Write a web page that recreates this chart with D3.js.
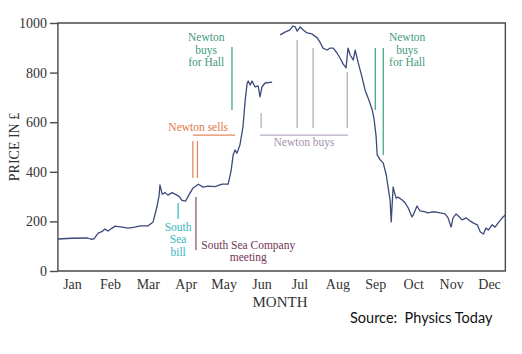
<!DOCTYPE html>
<html lang="en">
<head>
	<meta charset="utf-8">
	<title>South Sea price 1720</title>
	<script src="https://d3js.org/d3.v7.min.js"></script>
	<style type="text/css">
		body { margin: 0; background: #fff; }
		svg text { font-family: "Liberation Serif", "Times New Roman", serif; }
		.axis text { font-size: 14px; fill: #333; }
		.axis path, .axis line { stroke: #4a4a4a; stroke-width: 1.4; }
		.note { font-size: 11.5px; }
		svg text.source { font-family: Lato, "Open Sans", sans-serif; font-size: 14.5px; fill: #111; white-space: pre; }
	</style>
</head>
<body>
	<svg id="chart"></svg>

	<script type="text/javascript">
		// months run 0..12 (0 = start of Jan)
		let monthNames = ['Jan', 'Feb', 'Mar', 'Apr', 'May', 'Jun', 'Jul', 'Aug', 'Sep', 'Oct', 'Nov', 'Dec']
		let yTicks = [0, 200, 400, 600, 800, 1000]

		// price trace, null = gap in the record
		let priceMonth = [0.13, 0.50, 0.92, 1.00, 1.08, 1.19, 1.30, 1.37, 1.45, 1.55, 1.64, 1.82, 1.98, 2.16, 2.30, 2.51,
			2.64, 2.74, 2.80, 2.82, 2.88, 2.96, 3.03, 3.14, 3.27, 3.33, 3.40, 3.50, 3.56, 3.69, 3.83, 3.96,
			4.09, 4.27, 4.46, 4.62, 4.70, 4.75, 4.80, 4.85, 4.93, 5.01, 5.07, 5.12, 5.15, 5.20, 5.25, 5.33,
			5.41, 5.46, 5.51, 5.59, 5.78, 5.88,
			5.99, 6.12, 6.25, 6.33, 6.39, 6.44, 6.52, 6.60, 6.70, 6.83, 6.97, 7.04, 7.12, 7.23, 7.31, 7.39,
			7.49, 7.57, 7.65, 7.73, 7.78, 7.84, 7.92, 7.97, 8.05, 8.15, 8.23, 8.31, 8.42, 8.47, 8.52, 8.55,
			8.63, 8.71, 8.79, 8.84, 8.89, 8.92, 8.97, 9.00, 9.05, 9.10, 9.21, 9.29, 9.37, 9.47, 9.50, 9.60,
			9.68, 9.82, 9.89, 10.00, 10.08, 10.21, 10.34, 10.42, 10.50, 10.55, 10.63, 10.69, 10.79, 10.90,
			11.00, 11.08, 11.19, 11.27, 11.35, 11.42, 11.48, 11.58, 11.66, 11.74, 11.87, 11.93]
		let priceValue = [129, 132, 133, 128, 130, 153, 160, 169, 161, 172, 181, 177, 173, 177, 182, 182,
			198, 258, 306, 347, 310, 316, 306, 316, 306, 300, 285, 282, 300, 334, 350, 338,
			342, 340, 350, 350, 407, 467, 488, 475, 508, 581, 690, 757, 766, 750, 766, 742,
			746, 702, 742, 758, 762, null,
			952, 963, 972, 988, 984, 967, 984, 972, 960, 956, 940, 923, 899, 891, 899, 899,
			879, 859, 835, 819, 899, 870, 851, 891, 839, 782, 730, 698, 649, 610, 545, 468,
			448, 435, 387, 335, 286, 198, 339, 320, 294, 298, 286, 274, 254, 218, 226, 262,
			242, 238, 234, 238, 238, 234, 230, 214, 177, 214, 230, 222, 206, 214,
			202, 194, 186, 157, 149, 173, 165, 186, 177, 194, 218, 226]

		// annotations: label lines, label anchor (month, price of first baseline), marker lines [month, from, to]
		let noteText = [
			['Newton', 'buys', 'for Hall'],
			['Newton sells'],
			['South', 'Sea', 'bill'],
			['South Sea Company', 'meeting'],
			['Newton buys'],
			['Newton', 'buys', 'for Hall']
		]
		let noteAt = [[4.04, 927], [3.83, 566], [3.30, 163], [5.15, 89], [6.62, 505], [9.34, 927]]
		let noteMarks = [
			[[4.72, 903, 649]],
			[[3.69, 524, 375], [3.81, 524, 375]],
			[[3.30, 274, 210]],
			[[3.77, 298, 85]],
			[[5.49, 637, 577], [6.44, 931, 577], [6.86, 899, 577], [7.76, 802, 577]],
			[[8.50, 899, 649], [8.71, 899, 468]]
		]
		// horizontal brackets [from month, to month, price]
		let noteBars = [null, [3.69, 4.80, 548], null, null, [5.46, 7.78, 548], null]
	</script>

	<script type="text/javascript">
		let w = 522
		let h = 354
		let xStart = 0.13
		let xEnd = 11.93
		let serif = '"Liberation Serif", "Times New Roman", serif'

		let noteTextColor = ['#3f9a7d', '#e07a48', '#39b5c0', '#733456', '#a58fae', '#3f9a7d']
		let noteLineColor = ['#45a887', '#e4895a', '#44bcc6', '#8a5872', '#b9aac0', '#45a887']

		let svg = d3.select('#chart')
			.attr('width', w)
			.attr('height', h)

		let xScale = d3.scaleLinear().domain([0, 12]).range([53, 508])
		let yScale = d3.scaleLinear().domain([0, 1000]).range([271, 23])

		// frame
		svg.append('path')
			.attr('d', d3.line()([[xScale(xStart), yScale(0)], [xScale(xEnd), yScale(0)],
				[xScale(xEnd), yScale(1000)], [xScale(xStart), yScale(1000)], [xScale(xStart), yScale(0)]]))
			.attr('fill', 'none')
			.attr('stroke', '#4a4a4a')
			.attr('stroke-width', 1.4)

		let yAxis = d3.axisLeft(yScale)
			.tickValues(yTicks)
			.tickFormat(d3.format('d'))
			.tickSize(8)
			.tickPadding(3)
		svg.append('g')
			.attr('class', 'axis')
			.attr('transform', 'translate(' + xScale(xStart) + ',0)')
			.call(yAxis)
			.attr('font-family', serif)
			.attr('font-size', 14)
			.call(g => g.select('.domain').remove())

		let xAxis = d3.axisBottom(xScale)
			.tickValues(monthNames.map((d, i) => i + 0.5))
			.tickFormat((d, i) => monthNames[i])
			.tickSize(0)
			.tickPadding(8)
		svg.append('g')
			.attr('class', 'axis')
			.attr('transform', 'translate(0,' + yScale(0) + ')')
			.call(xAxis)
			.attr('font-family', serif)
			.attr('font-size', 14)
			.call(g => g.select('.domain').remove())

		svg.append('text')
			.attr('x', 280)
			.attr('y', 307)
			.attr('text-anchor', 'middle')
			.attr('font-size', '15px')
			.attr('fill', '#333')
			.text('MONTH')

		svg.append('text')
			.attr('transform', 'translate(19,147) rotate(-90)')
			.attr('text-anchor', 'middle')
			.attr('font-size', '14px')
			.attr('fill', '#333')
			.text('PRICE IN £')

		// annotation marks
		noteMarks.forEach(function(marks, i) {
			marks.forEach(function(m) {
				svg.append('line')
					.attr('x1', xScale(m[0])).attr('x2', xScale(m[0]))
					.attr('y1', yScale(m[1])).attr('y2', yScale(m[2]))
					.attr('stroke', noteLineColor[i])
					.attr('stroke-width', 1.3)
			})
			let b = noteBars[i]
			if (b) {
				svg.append('line')
					.attr('x1', xScale(b[0])).attr('x2', xScale(b[1]))
					.attr('y1', yScale(b[2])).attr('y2', yScale(b[2]))
					.attr('stroke', noteLineColor[i])
					.attr('stroke-width', 1.3)
			}
			let t = svg.append('text')
				.attr('class', 'note')
				.attr('x', xScale(noteAt[i][0]))
				.attr('y', yScale(noteAt[i][1]))
				.attr('text-anchor', 'middle')
				.attr('fill', noteTextColor[i])
			t.selectAll('tspan')
				.data(noteText[i])
				.enter()
				.append('tspan')
				.attr('x', xScale(noteAt[i][0]))
				.attr('dy', (d, j) => j == 0 ? 0 : 12.5)
				.text(d => d)
		})

		// price line
		let points = priceMonth.map((m, i) => [m, priceValue[i]])
		let line = d3.line()
			.defined(d => d[1] != null)
			.x(d => xScale(d[0]))
			.y(d => yScale(d[1]))
		svg.append('path')
			.attr('d', line(points))
			.attr('fill', 'none')
			.attr('stroke', '#3b4a7c')
			.attr('stroke-width', 1.3)
			.attr('stroke-linejoin', 'round')

		svg.append('text')
			.attr('class', 'source')
			.attr('x', 350)
			.attr('y', 323)
			.text('Source:  Physics Today')
	</script>
</body>
</html>
